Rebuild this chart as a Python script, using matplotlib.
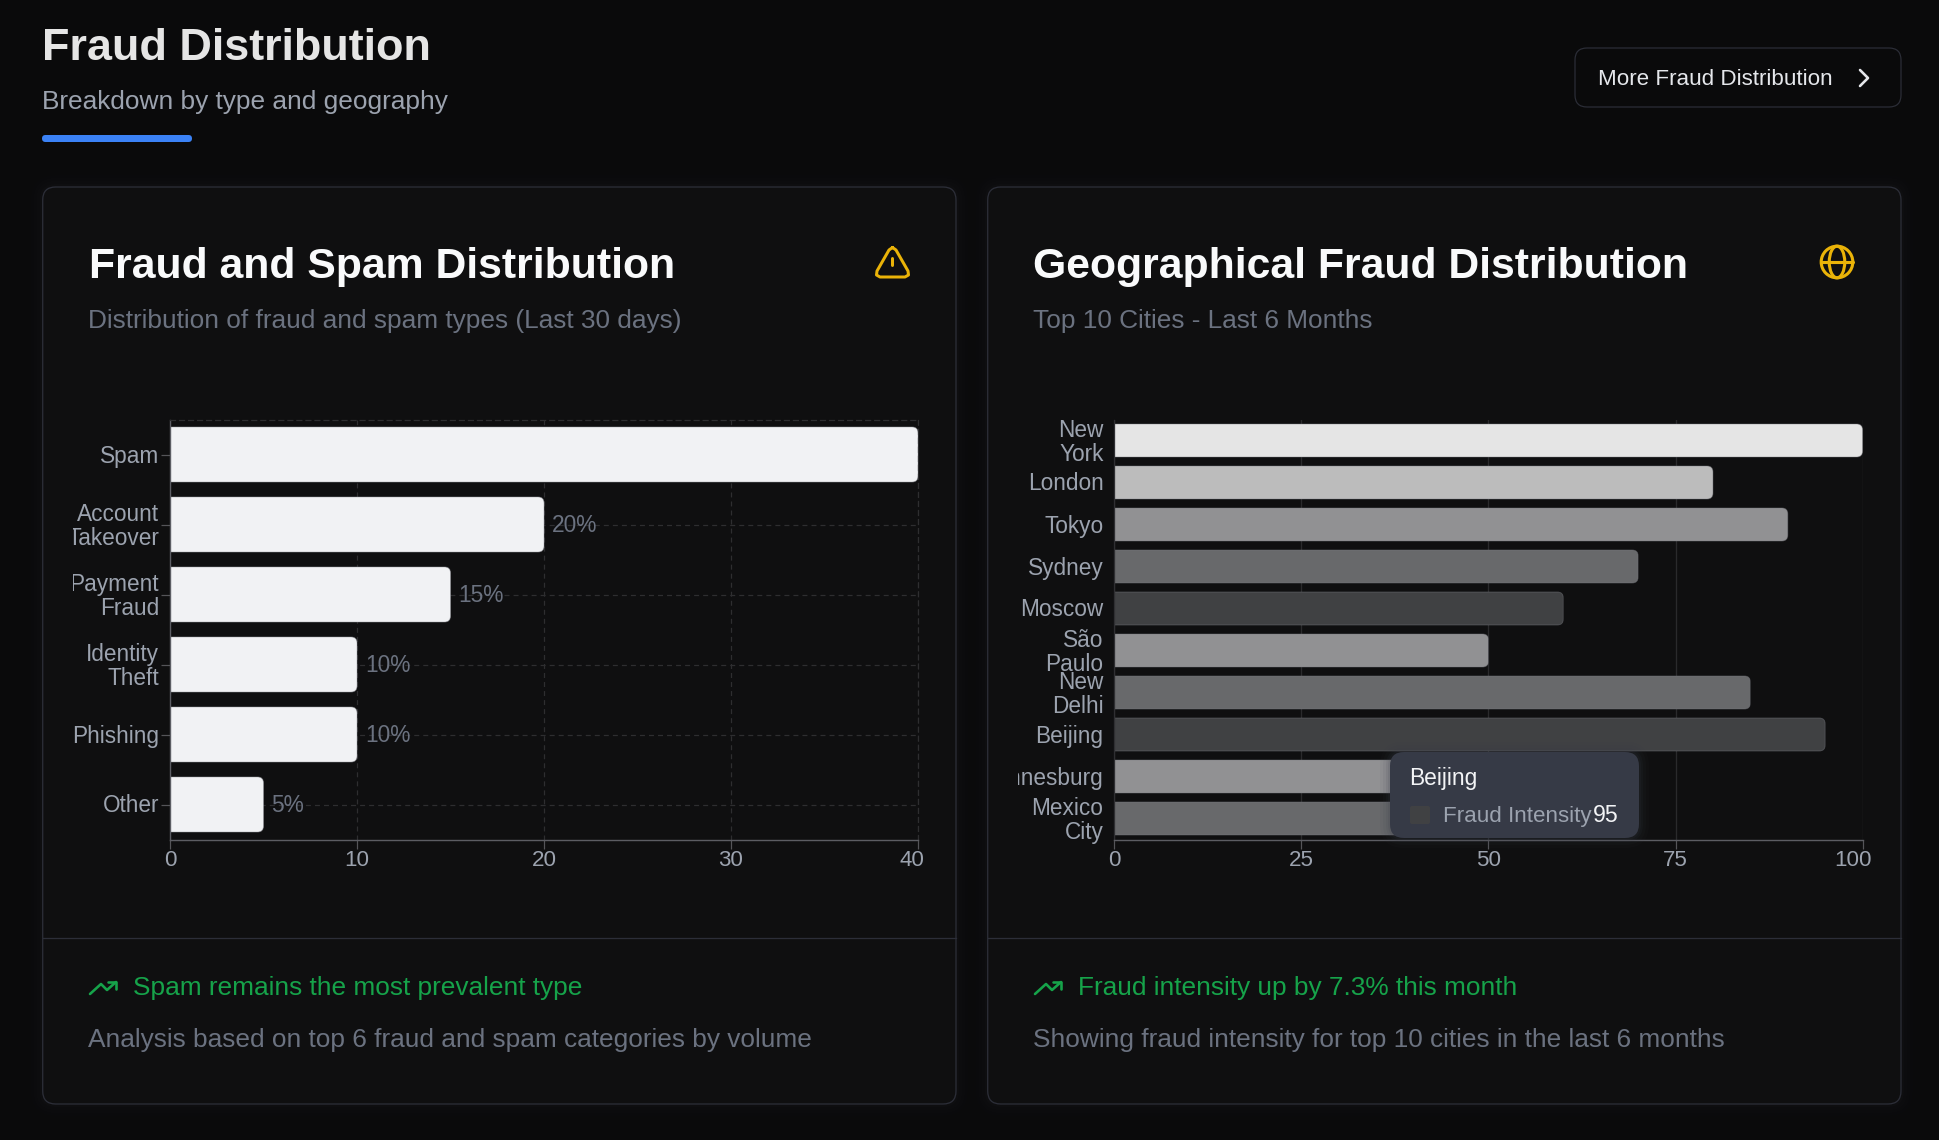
import matplotlib
matplotlib.use("Agg")
import matplotlib.pyplot as plt
from matplotlib.patches import FancyBboxPatch, PathPatch, Circle, Ellipse
from matplotlib.path import Path
from matplotlib.transforms import Bbox, TransformedBbox, ScaledTranslation

# ---------- data ----------
fraud_types = ["Spam", "Account\nTakeover", "Payment\nFraud", "Identity\nTheft", "Phishing", "Other"]
fraud_values = [40, 20, 15, 10, 10, 5]
fraud_labels = ["", "20%", "15%", "10%", "10%", "5%"]
fraud_ticks = [0, 10, 20, 30, 40]

cities = ["New\nYork", "London", "Tokyo", "Sydney", "Moscow", "São\nPaulo", "New\nDelhi",
          "Beijing", "Johannesburg", "Mexico\nCity"]
city_values = [100, 80, 90, 70, 60, 50, 85, 95, 45, 55]
city_colors = ["#e5e5e5", "#bcbcbc", "#919193", "#68696b", "#404143", "#919193", "#68696b",
               "#404143", "#919193", "#68696b"]
city_ticks = [0, 25, 50, 75, 100]

W, H = 1940, 1140
plt.rcParams["font.family"] = ["Liberation Sans", "DejaVu Sans"]
plt.rcParams["lines.scale_dashes"] = False
PX = 0.72  # points per pixel at dpi 100

PAGE = "#0a0a0b"
CARD = "#0f0f10"
BORDER = "#2c2e38"
MUTED = "#6b7280"
SOFT = "#9ca3af"
GREEN = "#16a34a"
AMBER = "#eab308"

fig = plt.figure(figsize=(W / 100, H / 100), dpi=100, facecolor=PAGE)
bg = fig.add_axes([0, 0, 1, 1], zorder=0)
bg.set_xlim(0, W)
bg.set_ylim(H, 0)
bg.axis("off")
top = fig.add_axes([0, 0, 1, 1], zorder=5)
top.set_xlim(0, W)
top.set_ylim(H, 0)
top.axis("off")
top.patch.set_alpha(0)


def rbox(ax, x0, y0, x1, y1, r, fc="none", ec="none", lw=0.0, alpha=None, z=1):
    p = FancyBboxPatch((x0, y0), x1 - x0, y1 - y0, boxstyle=f"round,pad=0,rounding_size={r}",
                       fc=fc, ec=ec, lw=lw * PX, alpha=alpha, zorder=z)
    ax.add_patch(p)
    return p


def label(ax, x, y, s, px, color, weight="normal", ha="left", z=6):
    return ax.text(x, y, s, fontsize=px * PX, color=color, fontweight=weight, ha=ha,
                   va="baseline", zorder=z)


def stroke(ax, pts, color, lw, z=6):
    ax.plot([p[0] for p in pts], [p[1] for p in pts], color=color, lw=lw * PX,
            solid_capstyle="round", solid_joinstyle="round", zorder=z)


# ---------- header ----------
label(bg, 42, 60, "Fraud Distribution", 45, "#e5e5e5", "bold")
label(bg, 42, 109, "Breakdown by type and geography", 26.2, SOFT)
rbox(bg, 42, 135, 192, 142, 3.5, fc="#3b82f6")
rbox(bg, 1575, 48, 1901, 107, 12, fc=PAGE, ec=BORDER, lw=1.2)
label(bg, 1598, 85, "More Fraud Distribution", 22.4, "#e5e7eb")
stroke(bg, [(1860, 70), (1868, 78), (1860, 86)], "#e5e7eb", 2.6)

# ---------- cards ----------
for x0, x1 in [(42.7, 956), (987.7, 1901)]:
    for grow, a in [(12, 0.10), (9, 0.16), (6, 0.22), (3, 0.30)]:
        rbox(bg, x0 - grow, 187 - grow, x1 + grow, 1104 + grow, 13 + grow, fc="#131315", alpha=a, z=1)
    rbox(bg, x0, 187, x1, 1104, 13, fc=CARD, ec=BORDER, lw=1.3, z=2)
    bg.plot([x0, x1], [938, 938], color=BORDER, lw=1.3 * PX, zorder=3)

label(bg, 89, 278, "Fraud and Spam Distribution", 42.8, "#f9fafb", "bold")
label(bg, 88, 328, "Distribution of fraud and spam types (Last 30 days)", 26.2, MUTED)
label(bg, 1033, 278, "Geographical Fraud Distribution", 42.8, "#f9fafb", "bold")
label(bg, 1033, 328, "Top 10 Cities - Last 6 Months", 26.2, MUTED)

label(bg, 133, 995, "Spam remains the most prevalent type", 26.2, GREEN)
label(bg, 88, 1047, "Analysis based on top 6 fraud and spam categories by volume", 26.2, MUTED)
label(bg, 1078, 995, "Fraud intensity up by 7.3% this month", 26.2, GREEN)
label(bg, 1033, 1047, "Showing fraud intensity for top 10 cities in the last 6 months", 26.2, MUTED)

# trending-up icons
for dx in (0, 945):
    stroke(bg, [(90 + dx, 994), (101 + dx, 984), (107 + dx, 990), (116 + dx, 982)], GREEN, 2.6)
    stroke(bg, [(108 + dx, 981.5), (116.5 + dx, 981.5), (116.5 + dx, 989)], GREEN, 2.6)

# alert triangle icon
tri = [(892.5, 247.5), (896, 250), (908, 271), (908.5, 275), (905, 277), (880, 277), (876.5, 275),
       (877, 271), (889, 250), (892.5, 247.5)]
stroke(bg, tri, AMBER, 3.0)
stroke(bg, [(892.5, 257.5), (892.5, 265)], AMBER, 3.0)
stroke(bg, [(892.5, 270.5), (892.5, 270.6)], AMBER, 3.2)

# globe icon
gx, gy = 1837, 262
bg.add_patch(Circle((gx, gy), 15.8, fc="none", ec=AMBER, lw=3.1 * PX, zorder=6))
bg.add_patch(Ellipse((gx, gy), 15.5, 31.6, fc="none", ec=AMBER, lw=3.1 * PX, zorder=6))
stroke(bg, [(gx - 15.8, gy), (gx + 15.8, gy)], AMBER, 3.1)


# ---------- charts ----------
def make_axes(x0, x1, y0, y1):
    ax = fig.add_axes([x0 / W, 1 - y1 / H, (x1 - x0) / W, (y1 - y0) / H], zorder=3)
    ax.patch.set_alpha(0)
    ax.set_axisbelow(True)
    return ax


def round_right(y, value, height, radius_px, px_per_x, px_per_y):
    rx = radius_px / px_per_x
    ry = radius_px / px_per_y
    t, b = y - height / 2, y + height / 2
    verts = [(0, t), (value - rx, t), (value, t), (value, t + ry), (value, b - ry), (value, b),
             (value - rx, b), (0, b)]
    codes = [Path.MOVETO, Path.LINETO, Path.CURVE3, Path.CURVE3, Path.LINETO, Path.CURVE3,
             Path.CURVE3, Path.LINETO]
    return Path(verts, codes)


def draw_bars(ax, values, colors, height, radius, px_x, px_y, edge, edge_alpha):
    bars = ax.barh(range(len(values)), values, height=height, color=colors, lw=0, zorder=2)
    for i, (bar, v) in enumerate(zip(bars, values)):
        path = round_right(i, v, height, radius, px_x, px_y)
        bar.set_clip_path(path, ax.transData)
        ax.add_patch(PathPatch(path, fc="none", ec=edge, alpha=edge_alpha, lw=0.9 * PX, zorder=2.1,
                               clip_on=False))
    return bars


def clip_left(labels, xpx):
    box = TransformedBbox(Bbox([[xpx / W, 0], [1, 1]]), fig.transFigure)
    for t in labels:
        t.set_clip_box(box)
        t.set_clip_on(True)
        t.set_transform(t.get_transform() + ScaledTranslation(0, 1 * PX / 72, fig.dpi_scale_trans))


def style_common(ax, ticks, ncat, names, shift_px):
    ax.set_xticks(ticks)
    ax.set_yticks(range(ncat))
    ax.set_yticklabels(names, fontsize=22.6 * PX, color=SOFT, linespacing=1.07, ma="right")
    ax.tick_params(axis="x", length=9 * PX, width=1.2 * PX, color="#555559", labelcolor=SOFT,
                   labelsize=22.4 * PX, pad=1.5 * PX)
    last = ax.get_xticklabels()[-1]
    last.set_transform(last.get_transform() + ScaledTranslation(-shift_px * PX / 72, 0, fig.dpi_scale_trans))


# left chart
axL = make_axes(170, 918, 419.5, 839.5)
draw_bars(axL, fraud_values, "#f1f2f4", 55 / 70, 6, 748 / 40, 70, "#9a9ca3", 0.5)
axL.set_xlim(0, 40)
axL.set_ylim(5.5, -0.5)
style_common(axL, fraud_ticks, len(fraud_types), fraud_types, 6)
axL.tick_params(axis="y", length=9 * PX, width=1.2 * PX, color="#555559", pad=2 * PX)
dash = (0, (3.6, 2.9))
axL.grid(True, color="#2e2e30", lw=1.2 * PX, linestyle=dash)
for side in ("top", "right"):
    axL.spines[side].set(color="#2e2e30", lw=1.2 * PX, linestyle=dash)
for side in ("left", "bottom"):
    axL.spines[side].set(color="#5c5d63", lw=1.4 * PX)
for y, (v, s) in enumerate(zip(fraud_values, fraud_labels)):
    if s:
        axL.annotate(s, (v, y), xytext=(8 * PX, 1 * PX), textcoords="offset points", va="center_baseline",
                     fontsize=22.8 * PX, color=MUTED, zorder=4)
clip_left(axL.get_yticklabels(), 72.7)

# right chart
axR = make_axes(1114.4, 1862.6, 419.5, 839.5)
draw_bars(axR, city_values, city_colors, 33 / 42, 6, 748.2 / 100, 42, "#7a7b82", 0.45)
axR.set_xlim(0, 100)
axR.set_ylim(9.5, -0.5)
style_common(axR, city_ticks, len(cities), cities, 10)
axR.tick_params(axis="y", length=0, pad=11 * PX)
axR.grid(True, axis="x", color="#2a2a2c", lw=1.3 * PX)
axR.spines["top"].set_visible(False)
axR.spines["right"].set_visible(False)
axR.spines["left"].set(color="#2f2f32", lw=1.3 * PX)
axR.spines["bottom"].set(color="#5c5d63", lw=1.4 * PX)
clip_left(axR.get_yticklabels(), 1018)

# ---------- tooltip ----------
for grow, a in [(10, 0.05), (7, 0.07), (4, 0.10), (2, 0.12)]:
    rbox(top, 1390 - grow, 752 - grow, 1639 + grow, 838 + grow, 14 + grow, fc="#3a3e4a", alpha=a, z=1)
rbox(top, 1390, 752, 1639, 838, 14, fc="#363a46", z=2)
rbox(top, 1410, 806, 1430, 824, 2, fc="#404143", z=3)
label(top, 1409, 785, "Beijing", 22.8, "#f3f4f6")
label(top, 1443, 822, "Fraud Intensity", 22.4, SOFT)
label(top, 1619, 822, "95", 23, "#f3f4f6", ha="right")

fig.savefig("out.png", dpi=100, facecolor=PAGE)
